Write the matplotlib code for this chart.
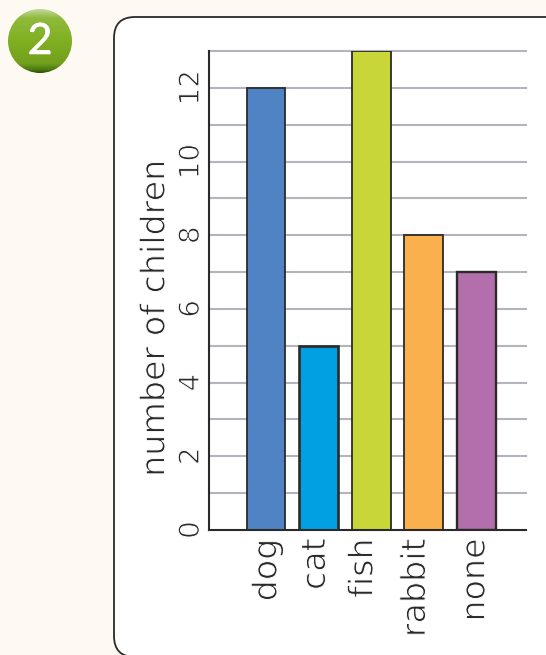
#!/usr/bin/python

import numpy as np
import matplotlib.pyplot as plt
import matplotlib.patheffects as pe
from matplotlib.colors import LinearSegmentedColormap
from matplotlib.patches import FancyBboxPatch, Circle
from matplotlib.transforms import ScaledTranslation

# The chart data
pets = ['dog', 'cat', 'fish', 'rabbit', 'none']
children = [12, 5, 13, 8, 7]
bar_colors = ['#4f83c3', '#00a0e3', '#c9d637', '#fbb04e', '#b26fab']
y_labels = ['0', '2', '4', '6', '8', '10', '12']

W, H = 546, 655
ink = '#2a2a2a'
fig = plt.figure(figsize=(W / 100, H / 100), dpi=100, facecolor='#fef9f3')

# Thins the DejaVu strokes, the original lettering is much lighter
thin = [pe.Stroke(linewidth=0.7, foreground='white')]

# Background layer in pixels, y going down
bg = fig.add_axes([0, 0, 1, 1])

# The number badge, shaded from light on top to dark at the bottom
badge_cmap = LinearSegmentedColormap.from_list('badge', [
    (0.0, '#c2d99a'), (0.14, '#8fba3c'), (0.5, '#80b022'),
    (0.85, '#739f1c'), (0.95, '#4a7a10'), (1.0, '#2c4f06')])
shade = np.linspace(0, 1, 128).reshape(-1, 1)
badge = bg.imshow(shade, extent=(8, 72, 73, 9), cmap=badge_cmap, aspect='auto', zorder=2)
badge.set_clip_path(Circle((40, 41), 32, transform=bg.transData))

bg.set_xlim(0, W)
bg.set_ylim(H, 0)
bg.axis('off')

# The white card
bg.add_patch(FancyBboxPatch((114, 17), 520, 640, boxstyle='round,pad=0,rounding_size=21',
                            fc='white', ec='#2a2a2a', lw=1.3))

bg.text(40, 42, '2', color='white', fontsize=31, ha='center', va='center', family='Lato', zorder=3,
        path_effects=[pe.withStroke(linewidth=0.4, foreground='white')])

# The chart itself
x0, x1, y0, y1 = 209, 526, 530, 51
ax = fig.add_axes([x0 / W, 1 - y0 / H, (x1 - x0) / W, (y0 - y1) / H])
ax.patch.set_alpha(0)

ax.set_xlim(-1.086, 4.95)
ax.set_ylim(0, 13)

# Grid lines every unit
for v in range(1, 14):
    ax.axhline(v, color='#b4b4bc', lw=1.5, zorder=1, clip_on=False)

bars = ax.bar(range(len(pets)), children, width=0.74, color=bar_colors,
              edgecolor='#2a2a2a', linewidth=1.3, zorder=3)
bars[1].set_linewidth(1.9)
bars[4].set_linewidth(1.7)

for s in ['top', 'right']:
    ax.spines[s].set_visible(False)
for s in ['left', 'bottom']:
    ax.spines[s].set_linewidth(1.5)
    ax.spines[s].set_color('#2a2a2a')
    ax.spines[s].set_zorder(4)

ax.set_xticks(range(len(pets)))
ax.set_xticklabels(pets, rotation=90, fontsize=24, color=ink, path_effects=thin)
ax.set_yticks(range(0, 13, 2))
ax.set_yticklabels(y_labels, rotation=90, fontsize=20, color=ink, va='center', path_effects=thin)
ax.tick_params(length=0)
ax.tick_params(axis='y', pad=3)
ax.tick_params(axis='x', pad=6)

# The hand set labels do not sit exactly under their bars
nudges = [1, -3, -8, -8, -1]
for label, nudge in zip(ax.get_xticklabels(), nudges):
    label.set_transform(label.get_transform() + ScaledTranslation(nudge / 100, 0, fig.dpi_scale_trans))

bg.text(155, 318, 'number of children', rotation=90, fontsize=24, color=ink,
        ha='center', va='center', path_effects=thin)

fig.savefig('out.png', dpi=100, facecolor=fig.get_facecolor())
